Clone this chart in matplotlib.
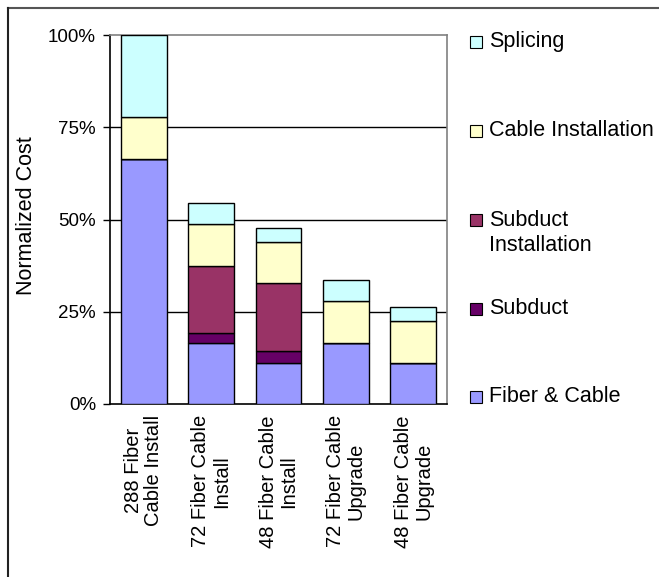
import matplotlib
matplotlib.use("Agg")
import matplotlib.pyplot as plt
from matplotlib.patches import Rectangle
from matplotlib.lines import Line2D
from matplotlib.ticker import FuncFormatter

plt.rcParams['font.family'] = ['Liberation Sans', 'DejaVu Sans']

# Categories and stacked cost components (fraction of the 288-fiber total)
categories = ["288 Fiber\nCable Install", "72 Fiber Cable\nInstall", "48 Fiber Cable\nInstall",
              "72 Fiber Cable\nUpgrade", "48 Fiber Cable\nUpgrade"]
fiber_cable = [0.663, 0.165, 0.112, 0.165, 0.112]
subduct = [0.0, 0.028, 0.032, 0.0, 0.0]
subduct_install = [0.0, 0.180, 0.183, 0.0, 0.0]
cable_install = [0.115, 0.116, 0.112, 0.115, 0.113]
splicing = [0.222, 0.057, 0.037, 0.057, 0.038]

series_names = ["Fiber & Cable", "Subduct", "Subduct\nInstallation", "Cable Installation", "Splicing"]
series_values = [fiber_cable, subduct, subduct_install, cable_install, splicing]
series_colors = ["#9999FF", "#660066", "#993366", "#FFFFCC", "#CCFFFF"]
yticks = [0, 0.25, 0.5, 0.75, 1.0]

W, H = 659, 577
fig = plt.figure(figsize=(W / 100, H / 100), dpi=100)

# plot area in pixel coordinates
left, right, top, bottom = 110, 447, 35, 404
ax = fig.add_axes([left / W, 1 - bottom / H, (right - left) / W, (bottom - top) / H])

x = list(range(len(categories)))
base = [0.0] * len(categories)
for vals, col in zip(series_values, series_colors):
    ax.bar(x, vals, bottom=base, width=0.68, color=col, edgecolor="black", linewidth=1, zorder=3)
    base = [b + v for b, v in zip(base, vals)]

ax.set_xlim(-0.5, len(categories) - 0.5)
ax.set_ylim(0, 1.0)
ax.set_yticks(yticks)
ax.yaxis.set_major_formatter(FuncFormatter(lambda v, p: f"{v * 100:.0f}%"))
ax.tick_params(axis="y", length=5, width=1, color="black", pad=5, labelsize=13.5)
ax.set_xticks(x)
ax.set_xticklabels(categories, rotation=90, va="top", ha="center", multialignment="center",
                   fontsize=14.5, linespacing=1.1)
ax.tick_params(axis="x", length=0, pad=8)

for yv in yticks[1:-1]:
    ax.axhline(yv, color="black", linewidth=1, zorder=1)

for s in ("left", "bottom"):
    ax.spines[s].set_color("black")
    ax.spines[s].set_linewidth(1.2)
for s in ("top", "right"):
    ax.spines[s].set_color("#808080")
    ax.spines[s].set_linewidth(1.2)

fig.text(27 / W, 1 - 216 / H, "Normalized Cost", rotation=90, ha="center", va="center", fontsize=15.5)

# legend, top entry first
legend_y = [397, 309, 220, 131, 42]
for name, col, yc in zip(series_names, series_colors, legend_y):
    fig.patches.append(Rectangle((470 / W, 1 - (yc + 6) / H), 12 / W, 12 / H,
                                 facecolor=col, edgecolor="black", linewidth=0.8,
                                 transform=fig.transFigure, figure=fig))
    first_line_offset = 0 if "\n" not in name else 13
    fig.text(489 / W, 1 - (yc + first_line_offset) / H, name, ha="left", va="center",
             fontsize=15.5, linespacing=1.25)

# outer chart frame
fig.lines.append(Line2D([8 / W, 1.0], [1 - 7.5 / H, 1 - 7.5 / H], color="#555555", linewidth=1.5,
                        transform=fig.transFigure, figure=fig))
fig.lines.append(Line2D([8 / W, 8 / W], [0, 1 - 7.5 / H], color="#222222", linewidth=1.5,
                        transform=fig.transFigure, figure=fig))

fig.savefig("out.png", dpi=100)
